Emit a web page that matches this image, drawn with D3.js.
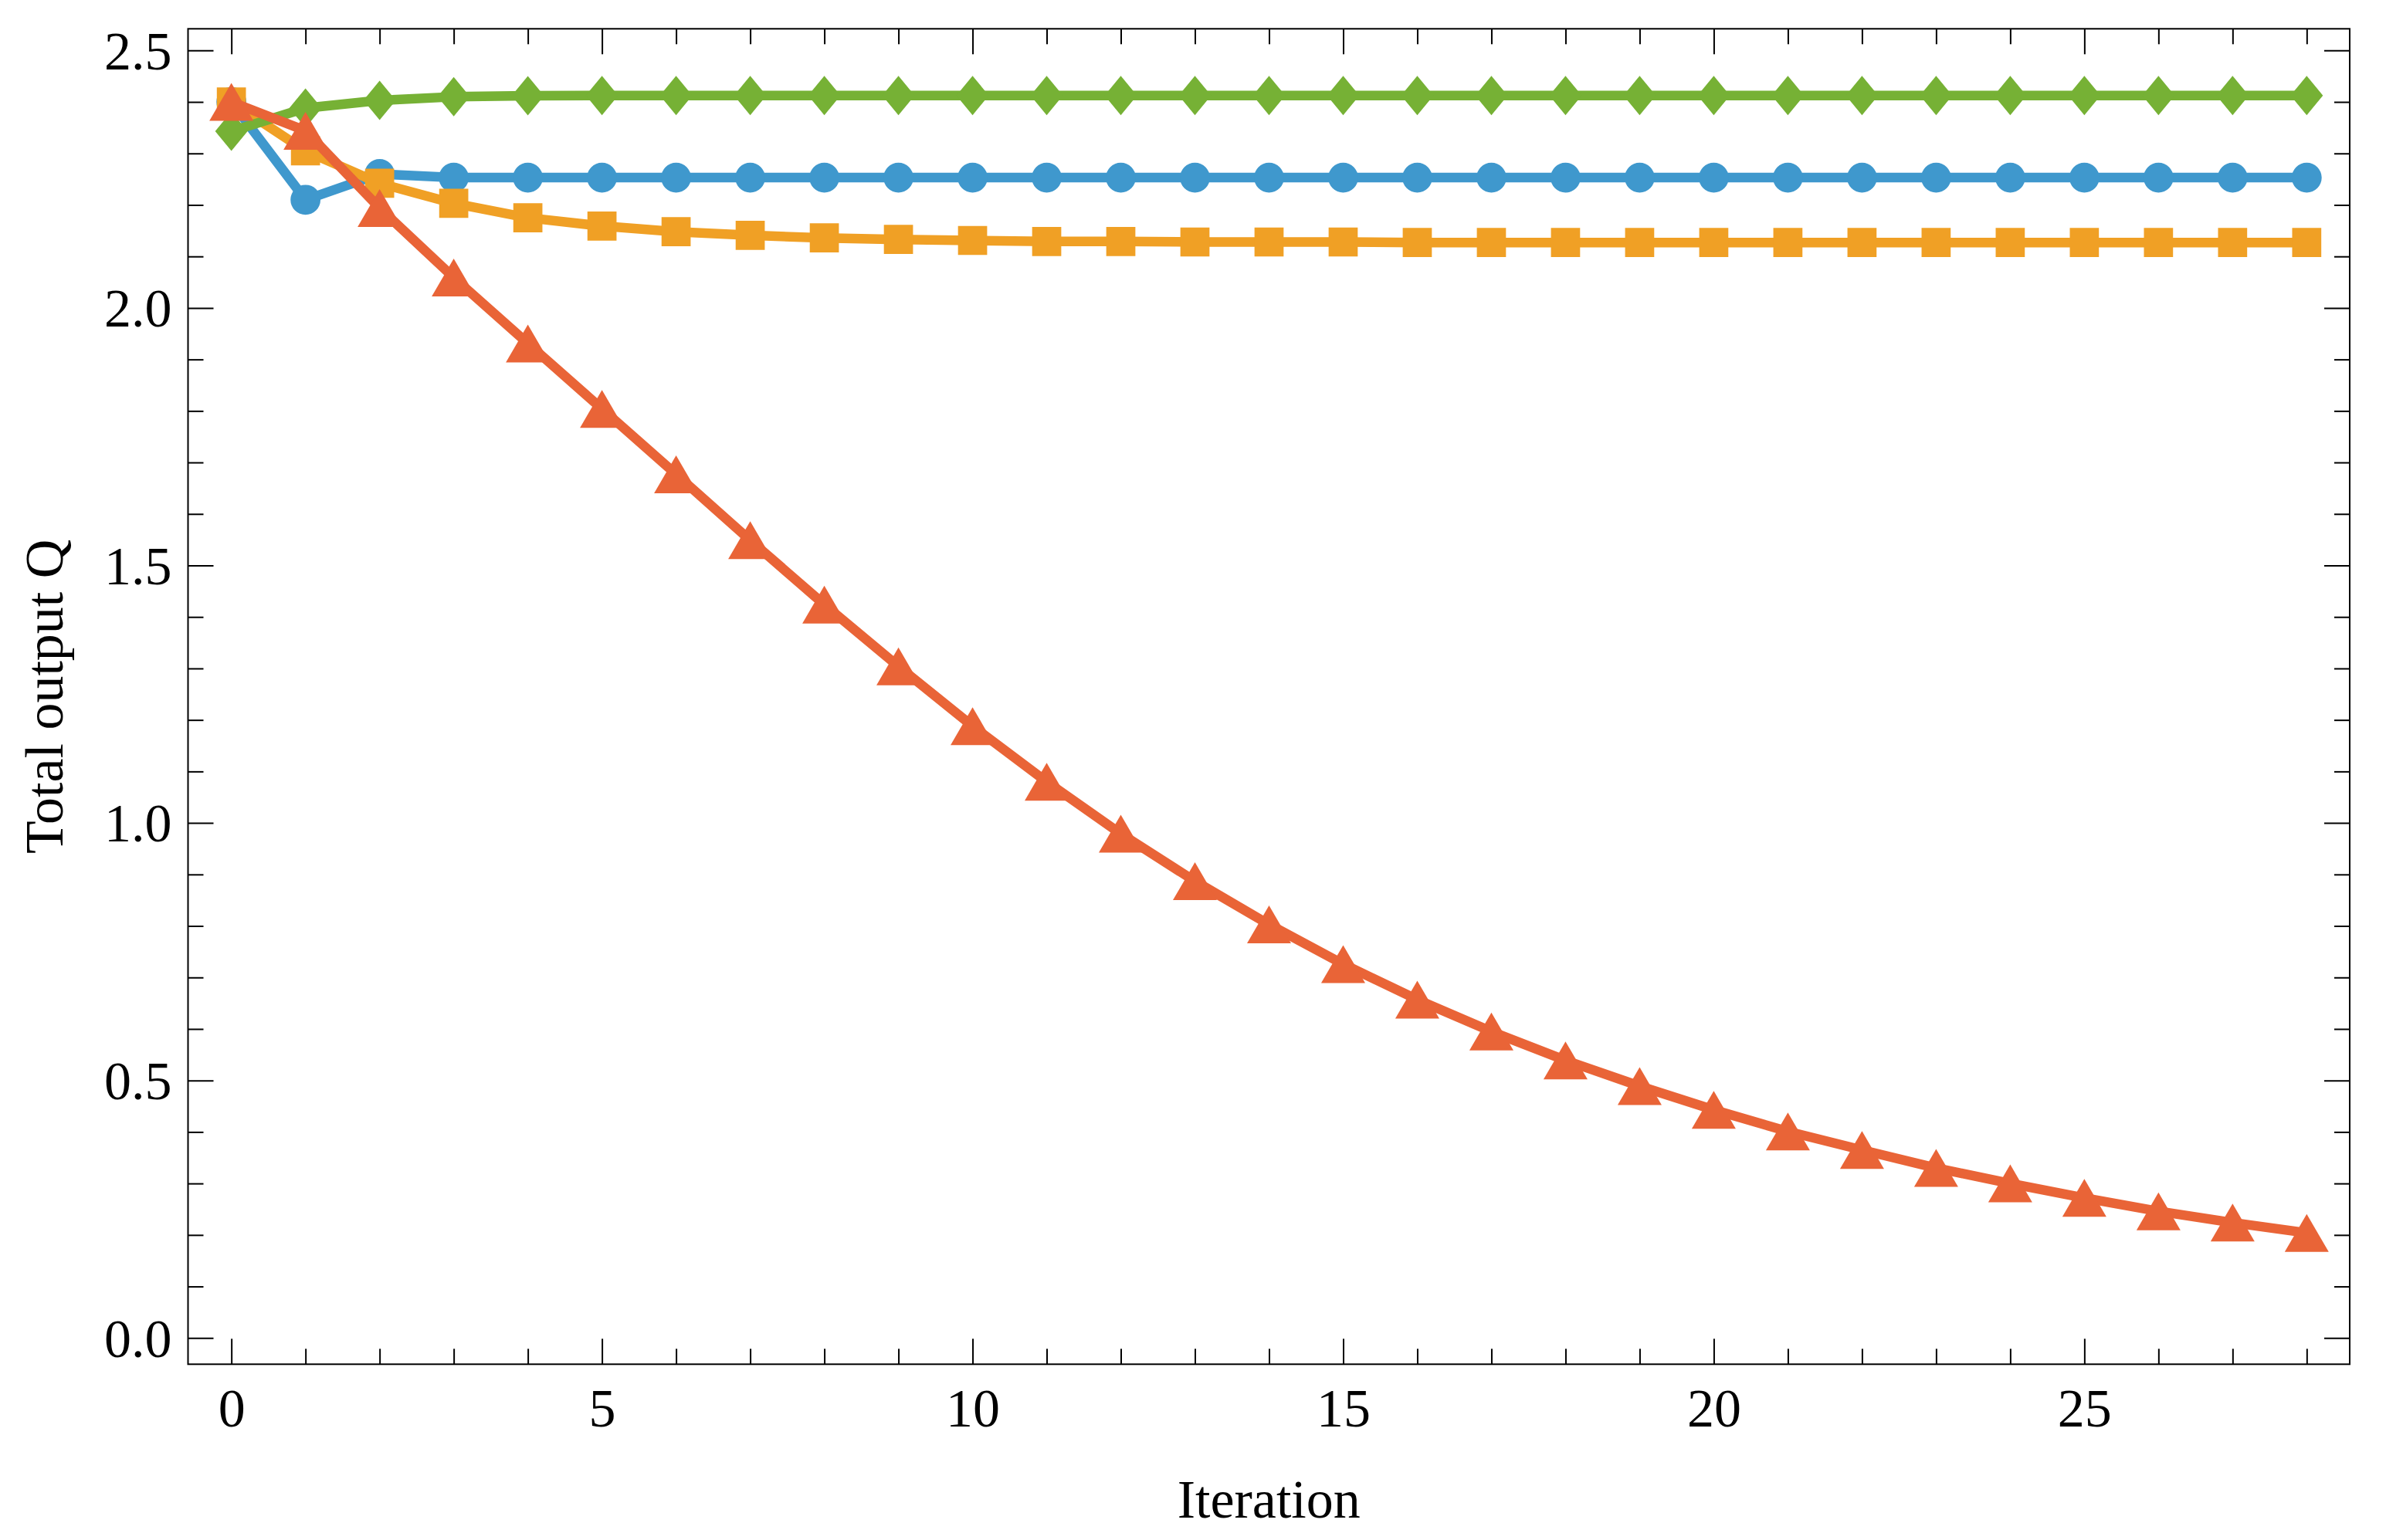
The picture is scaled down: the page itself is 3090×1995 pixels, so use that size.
<!DOCTYPE html>
<html>
<head>
<meta charset="utf-8">
<script src="https://cdn.jsdelivr.net/npm/d3@7"></script>
<style>
  body { margin: 0; background: #fff; }
  svg { display: block; }
</style>
</head>
<body>
<div id="chart"></div>
<script>
// chart data
var iterations = [0, 1, 2, 3, 4, 5, 6, 7, 8, 9, 10, 11, 12, 13, 14, 15, 16, 17, 18, 19, 20, 21, 22, 23, 24, 25, 26, 27, 28];

var q_blue = [2.400, 2.210, 2.260, 2.253, 2.253, 2.253, 2.253, 2.253, 2.253, 2.253,
  2.253, 2.253, 2.253, 2.253, 2.253, 2.253, 2.253, 2.253, 2.253, 2.253,
  2.253, 2.253, 2.253, 2.253, 2.253, 2.253, 2.253, 2.253, 2.253];

var q_orange = [2.400, 2.305, 2.242, 2.203, 2.175, 2.159, 2.148, 2.141, 2.136, 2.133,
  2.131, 2.129, 2.129, 2.128, 2.128, 2.128, 2.127, 2.127, 2.127, 2.127,
  2.127, 2.127, 2.127, 2.127, 2.127, 2.127, 2.127, 2.127, 2.127];

var q_green = [2.343, 2.388, 2.403, 2.410, 2.412, 2.4125, 2.4125, 2.4125, 2.4125, 2.4125,
  2.4125, 2.4125, 2.4125, 2.4125, 2.4125, 2.4125, 2.4125, 2.4125, 2.4125, 2.4125,
  2.4125, 2.4125, 2.4125, 2.4125, 2.4125, 2.4125, 2.4125, 2.4125, 2.4125];

var q_red = [2.400, 2.344, 2.194, 2.059, 1.931, 1.804, 1.677, 1.549, 1.424, 1.304,
  1.188, 1.080, 0.979, 0.887, 0.803, 0.726, 0.657, 0.595, 0.539, 0.489,
  0.443, 0.401, 0.365, 0.330, 0.300, 0.272, 0.246, 0.224, 0.204];

var x_major = [0, 5, 10, 15, 20, 25];
var y_major = [0.0, 0.5, 1.0, 1.5, 2.0, 2.5];

var x_title = "Iteration";
var y_title = "Total output Q";

// layout
var width = 3090;
var height = 1995;
var frame = { left: 243.5, right: 3043, top: 37.3, bottom: 1767.3 };
var font = "'Liberation Serif', 'Times New Roman', serif";

var x = d3.scaleLinear().domain([-0.585, 28.58]).range([frame.left, frame.right]);
var y = d3.scaleLinear().domain([-0.051, 2.542]).range([frame.bottom, frame.top]);

var x_minor = iterations.filter((d) => x_major.indexOf(d) < 0);
var y_minor = d3.range(0, 26).map((d) => d / 10).filter((d) => d % 0.5 > 0.01 && d % 0.5 < 0.49);

var svg = d3
  .select("#chart")
  .append("svg")
  .attr("width", width)
  .attr("height", height);

svg.append("rect").attr("width", width).attr("height", height).attr("fill", "#fff");

// marker shapes, drawn around (0,0)
function circle_path(r) {
  return "M" + -r + ",0A" + r + "," + r + " 0 1,0 " + r + ",0A" + r + "," + r + " 0 1,0 " + -r + ",0Z";
}
function square_path(s) {
  var h = s / 2;
  return "M" + -h + "," + -h + "H" + h + "V" + h + "H" + -h + "Z";
}
function diamond_path(w, h) {
  return "M0," + -h / 2 + "L" + w / 2 + ",0L0," + h / 2 + "L" + -w / 2 + ",0Z";
}
function triangle_path(s, h) {
  return "M0," + -h / 2 + "L" + s / 2 + "," + h / 2 + "L" + -s / 2 + "," + h / 2 + "Z";
}

var series = [
  { values: q_blue, color: "#3f98cd", marker: circle_path(19.4) },
  { values: q_orange, color: "#f0a025", marker: square_path(37.7) },
  { values: q_green, color: "#76b135", marker: diamond_path(42, 51) },
  { values: q_red, color: "#e96437", marker: triangle_path(57, 49) }
];

var line = d3
  .line()
  .x((d, i) => x(iterations[i]))
  .y((d) => y(d));

var plot = svg.append("g");

series.forEach(function (s) {
  var g = plot.append("g");
  g.append("path")
    .datum(s.values)
    .attr("d", line)
    .attr("fill", "none")
    .attr("stroke", s.color)
    .attr("stroke-width", 12.5)
    .attr("stroke-linejoin", "round");

  g.selectAll("path.marker")
    .data(s.values)
    .enter()
    .append("path")
    .attr("class", "marker")
    .attr("d", s.marker)
    .attr("fill", s.color)
    .attr("transform", (d, i) => "translate(" + x(iterations[i]) + "," + y(d) + ")");
});

// frame and inward ticks on all four sides
function style_axis(g) {
  g.select(".domain").remove();
  g.selectAll("line").attr("stroke", "#000").attr("stroke-width", 2);
  g.selectAll("text")
    .attr("font-family", font)
    .attr("font-size", 70)
    .attr("fill", "#000");
}

var major = 33;
var minor = 20;

svg.append("g")
  .attr("transform", "translate(0," + frame.bottom + ")")
  .call(d3.axisBottom(x).tickValues(x_major).tickSize(-major).tickPadding(31).tickFormat(d3.format("d")))
  .call(style_axis);
svg.append("g")
  .attr("transform", "translate(0," + frame.bottom + ")")
  .call(d3.axisBottom(x).tickValues(x_minor).tickSize(-minor).tickFormat(""))
  .call(style_axis);

svg.append("g")
  .attr("transform", "translate(0," + frame.top + ")")
  .call(d3.axisTop(x).tickValues(x_major).tickSize(-major).tickFormat(""))
  .call(style_axis);
svg.append("g")
  .attr("transform", "translate(0," + frame.top + ")")
  .call(d3.axisTop(x).tickValues(x_minor).tickSize(-minor).tickFormat(""))
  .call(style_axis);

var left_axis = svg.append("g")
  .attr("transform", "translate(" + frame.left + ",0)")
  .call(d3.axisLeft(y).tickValues(y_major).tickSize(-major).tickPadding(21).tickFormat(d3.format(".1f")))
  .call(style_axis);
left_axis.selectAll("text").attr("dy", "0.34em");
svg.append("g")
  .attr("transform", "translate(" + frame.left + ",0)")
  .call(d3.axisLeft(y).tickValues(y_minor).tickSize(-minor).tickFormat(""))
  .call(style_axis);

svg.append("g")
  .attr("transform", "translate(" + frame.right + ",0)")
  .call(d3.axisRight(y).tickValues(y_major).tickSize(-major).tickFormat(""))
  .call(style_axis);
svg.append("g")
  .attr("transform", "translate(" + frame.right + ",0)")
  .call(d3.axisRight(y).tickValues(y_minor).tickSize(-minor).tickFormat(""))
  .call(style_axis);

svg.append("rect")
  .attr("x", frame.left)
  .attr("y", frame.top)
  .attr("width", frame.right - frame.left)
  .attr("height", frame.bottom - frame.top)
  .attr("fill", "none")
  .attr("stroke", "#000")
  .attr("stroke-width", 2);

// axis titles
svg.append("text")
  .attr("x", (frame.left + frame.right) / 2)
  .attr("y", 1966)
  .attr("text-anchor", "middle")
  .attr("font-family", font)
  .attr("font-size", 70)
  .text(x_title);

svg.append("text")
  .attr("transform", "translate(81," + (frame.top + frame.bottom) / 2 + ") rotate(-90)")
  .attr("text-anchor", "middle")
  .attr("font-family", font)
  .attr("font-size", 70)
  .text(y_title);
</script>
</body>
</html>
